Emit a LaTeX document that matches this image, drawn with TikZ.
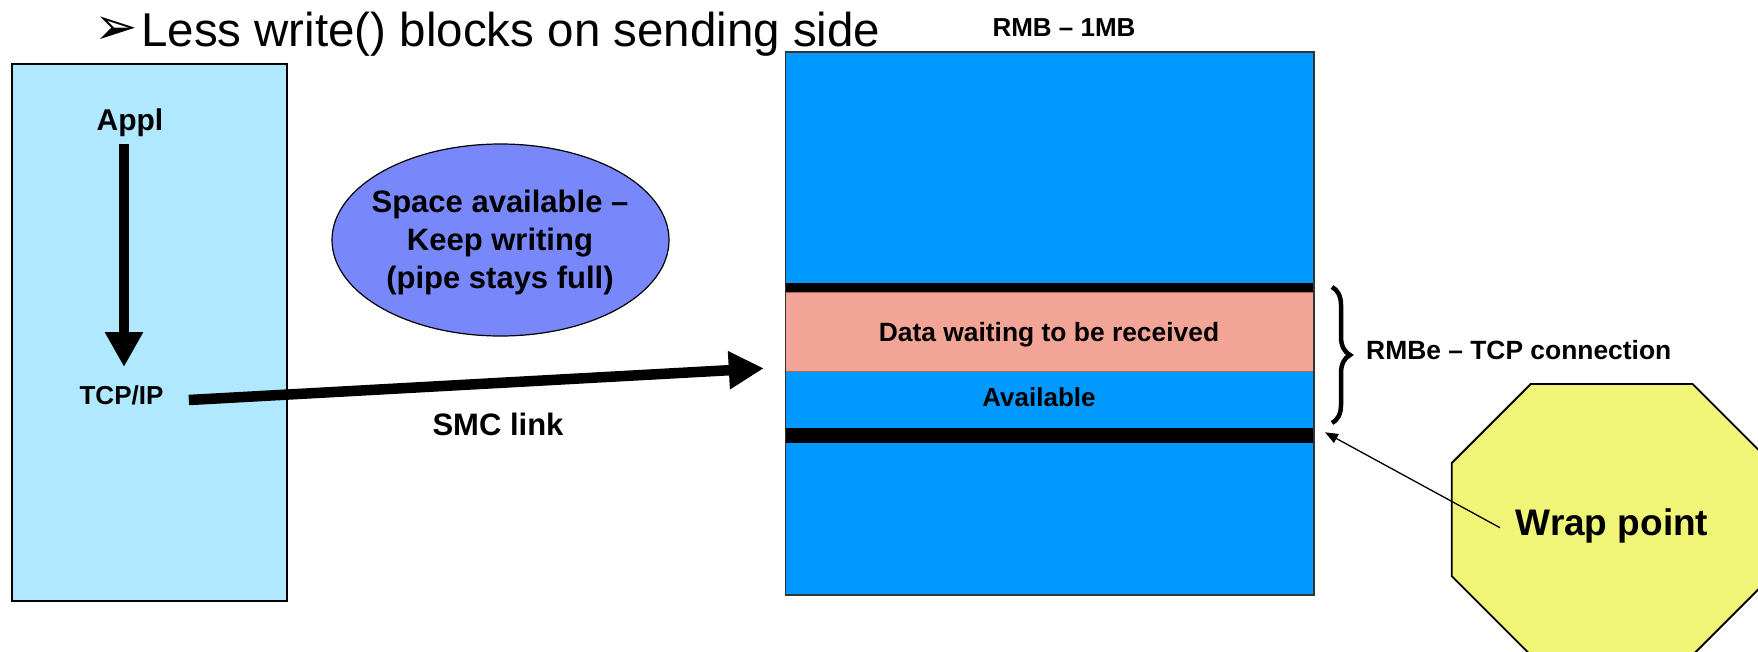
\documentclass[tikz,border=0pt]{standalone}
\usepackage{fontspec}
\setmainfont{Liberation Sans}
\newfontfamily\symfont{DejaVu Sans}
\usetikzlibrary{shapes.geometric,arrows.meta,decorations.pathreplacing}
\definecolor{lightblue}{RGB}{176,232,255}
\definecolor{rmbblue}{RGB}{0,153,255}
\definecolor{datapink}{RGB}{242,165,150}
\definecolor{pinkedge}{RGB}{170,100,90}
\definecolor{ellblue}{RGB}{120,135,250}
\definecolor{wrapyellow}{RGB}{240,245,120}
\newcommand\fsz[2]{\fontsize{#1}{#2}\selectfont}
\begin{document}
\begin{tikzpicture}[x=1pt,y=-1pt,
  lbl/.style={inner sep=0pt, anchor=base},
  fatarrow/.style={line width=10.5pt, -{Triangle[width=36pt,length=35pt]}},
  thinarrow/.style={line width=1.3pt, -{Triangle[width=10pt,length=13pt]}}]
\clip (0,0) rectangle (1758,651);
\fill[white] (0,0) rectangle (1758,651);

% title
\node[inner sep=0pt, anchor=base west] (bullet) at (94,44.5) {\symfont\fsz{52}{52}➢};
\node[inner sep=0pt, anchor=base west] (title) at (141,46.7) {\fsz{47.5}{47.5}Less write() blocks on sending side};

% left box
\node[draw=black, line width=1.8pt, fill=lightblue, minimum width=275pt, minimum height=537pt, inner sep=0pt] (sender) at (149.5,332.5) {};
\node[lbl, font=\bfseries\fsz{30}{30}] (appl) at (130,130.7) {Appl};
\node[lbl, font=\bfseries\fsz{26}{26}] (tcpip) at (121.5,404) {TCP/IP};
\coordinate (applbot) at (124,144);
\coordinate (tcptop) at (124,367);
\draw[fatarrow] (applbot) -- (tcptop);

% ellipse
\node[ellipse, draw=black, line width=1.2pt, fill=ellblue, minimum width=337pt, minimum height=192pt, inner sep=0pt] (space) at (500.5,240) {};
\node[inner sep=0pt, align=center, font=\bfseries\fsz{31}{38}] (spacetext) at (500,242.5) {Space available --\\Keep writing\\(pipe stays full)};

% SMC link
\coordinate (smcstart) at (188.8,400);
\coordinate (smcend) at (763.8,368.3);
\draw[fatarrow] (smcstart) -- (smcend);
\node[lbl, font=\bfseries\fsz{31}{31}] (smc) at (498,435) {SMC link};

% RMB
\node[draw=black!80, line width=1.2pt, fill=rmbblue, minimum width=528.5pt, minimum height=543pt, inner sep=0pt] (rmb) at (1049.75,323.5) {};
\fill[black] (785.5,283.3) rectangle (1314,292);
\node[draw=pinkedge, line width=1pt, fill=datapink, minimum width=528.5pt, minimum height=79pt, inner sep=0pt] (data) at (1049.75,331.5) {};
\fill[black] (785.5,427.7) rectangle (1314,443.3);
\draw[black!80, line width=1.2pt] (785.5,52) rectangle (1314,595);
\node[lbl, font=\bfseries\fsz{26}{26}] (rmblabel) at (1064,36.5) {RMB -- 1MB};
\node[lbl, font=\bfseries\fsz{26.4}{26.4}] (datalabel) at (1049,341) {Data waiting to be received};
\node[lbl, font=\bfseries\fsz{26}{26}] (avail) at (1039,406.6) {Available};

% brace
\draw[line width=4.5pt, decorate, decoration={brace, amplitude=18pt}] (1332,287) -- (1332,423);
\node[inner sep=0pt, anchor=base west, font=\bfseries\fsz{26.4}{26.4}] (rmbe) at (1366,359.3) {RMBe -- TCP connection};

% wrap point octagon
\filldraw[fill=wrapyellow, draw=black, line width=1.8pt]
  (1530.7,384) -- (1692.7,384) -- (1771.7,463) -- (1771.7,576) -- (1692.7,655) -- (1530.7,655) -- (1451.7,576) -- (1451.7,463) -- cycle;
\node[lbl, font=\bfseries\fsz{37}{37}] (wrap) at (1612,535) {Wrap point};
\coordinate (wrapfrom) at (1500,527.7);
\coordinate (wrapto) at (1325,432.3);
\draw[thinarrow] (wrapfrom) -- (wrapto);
\end{tikzpicture}
\end{document}
